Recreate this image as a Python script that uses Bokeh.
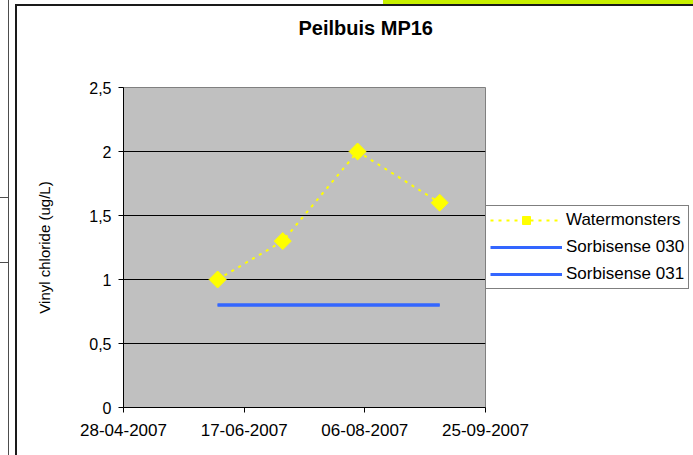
import math
import pandas as pd
from bokeh.plotting import figure
from bokeh.layouts import column, row
from bokeh.models import Range1d, FixedTicker, Legend, LegendItem, Title, Div
from bokeh.embed import file_html
from bokeh.resources import INLINE

# ---- data ----
title_text = "Peilbuis MP16"
y_label = "Vinyl chloride (ug/L)"

water_dates = ["2007-06-06", "2007-07-03", "2007-08-03", "2007-09-06"]
water_values = [1.0, 1.3, 2.0, 1.6]

sorb030_dates = ["2007-06-06", "2007-09-06"]
sorb030_values = [0.8, 0.8]

sorb031_dates = ["2007-06-06", "2007-09-06"]
sorb031_values = [0.8, 0.8]

x_tick_dates = ["2007-04-28", "2007-06-17", "2007-08-06", "2007-09-25"]
x_tick_labels = ["28-04-2007", "17-06-2007", "06-08-2007", "25-09-2007"]

y_ticks = [0, 0.5, 1, 1.5, 2, 2.5]
y_tick_labels = ["0", "0,5", "1", "1,5", "2", "2,5"]

series_labels = ["Watermonsters", "Sorbisense 030", "Sorbisense 031"]


def to_ms(s):
    return float(pd.Timestamp(s).value // 10**6)


x_ticks_ms = [to_ms(d) for d in x_tick_dates]
FONT = "Liberation Sans"

p = figure(
    frame_width=362, frame_height=320,
    title=None,
    x_axis_type="datetime",
    x_range=Range1d(x_ticks_ms[0], x_ticks_ms[-1]),
    y_range=Range1d(y_ticks[0], y_ticks[-1]),
    output_backend="svg", toolbar_location=None,
    min_border_left=105, min_border_right=0,
    min_border_top=71, min_border_bottom=50,
)
p.background_fill_color = "#C0C0C0"
p.border_fill_color = "white"
p.outline_line_color = "#808080"
p.outline_line_width = 1

# title: a thin spacer next to the frame, then the real title above it
p.add_layout(Title(text=" ", text_font_size="1px", standoff=46), "above")
p.add_layout(Title(text=title_text, align="left", offset=175, standoff=0,
                   text_font=FONT, text_font_size="20px", text_font_style="bold",
                   text_color="black"), "above")

# x axis
xa = p.xaxis[0]
xa.ticker = FixedTicker(ticks=x_ticks_ms)
xa.major_label_overrides = {t: l for t, l in zip(x_ticks_ms, x_tick_labels)}
xa.minor_tick_line_color = None
xa.major_tick_in = 0
xa.major_tick_out = 5
xa.axis_line_color = "black"
xa.major_tick_line_color = "black"
xa.major_label_text_font = FONT
xa.major_label_text_font_size = "17px"
xa.major_label_text_color = "black"
xa.major_label_standoff = 11

# y axis
ya = p.yaxis[0]
ya.ticker = FixedTicker(ticks=y_ticks)
ya.major_label_overrides = {t: l for t, l in zip(y_ticks, y_tick_labels)}
ya.minor_tick_line_color = None
ya.major_tick_in = 0
ya.major_tick_out = 5
ya.axis_line_color = "black"
ya.major_tick_line_color = "black"
ya.major_label_text_font = FONT
ya.major_label_text_font_size = "16px"
ya.major_label_text_color = "black"
ya.major_label_standoff = 7
ya.axis_label = y_label
ya.axis_label_text_font = FONT
ya.axis_label_text_font_size = "15px"
ya.axis_label_text_font_style = "normal"
ya.axis_label_text_color = "black"
ya.axis_label_standoff = 33

p.xgrid.visible = False
p.ygrid.ticker = FixedTicker(ticks=y_ticks)
p.ygrid.grid_line_color = "black"
p.ygrid.grid_line_width = 1
p.ygrid.grid_line_alpha = 1

# series
r030 = p.line([to_ms(d) for d in sorb030_dates], sorb030_values,
              line_color="#3366FF", line_width=3)
r031 = p.line([to_ms(d) for d in sorb031_dates], sorb031_values,
              line_color="#3366FF", line_width=3)
wx = [to_ms(d) for d in water_dates]
rw_line = p.line(wx, water_values, line_color="#FFFF00", line_width=2, line_dash="3 5")
rw_pts = p.scatter(wx, water_values, marker="square", angle=math.pi / 4, size=12,
                   fill_color="#FFFF00", line_color="#FFFF00")

legend = Legend(
    items=[
        LegendItem(label=series_labels[0], renderers=[rw_line, rw_pts]),
        LegendItem(label=series_labels[1], renderers=[r030]),
        LegendItem(label=series_labels[2], renderers=[r031]),
    ],
    location="center_left",
    padding=4, spacing=7, margin=0,
    glyph_width=72, glyph_height=20, label_height=20, label_standoff=4,
    label_text_font=FONT, label_text_font_size="17px", label_text_color="black",
    border_line_color="black", border_line_width=1,
    background_fill_color="white", background_fill_alpha=1,
)
p.add_layout(legend, "right")

# edges of the surrounding sheet visible in the screenshot
top_html = (
    '<div style="position:relative;width:693px;height:14px;overflow:hidden;background:white">'
    '<div style="position:absolute;left:8px;top:0;width:1px;height:14px;background:#4d4d4d"></div>'
    '<div style="position:absolute;left:383px;top:0;width:310px;height:4px;background:#C8F000"></div>'
    '<div style="position:absolute;left:15px;top:4px;width:678px;height:2px;background:#1a1a1a"></div>'
    '<div style="position:absolute;left:15px;top:4px;width:2px;height:10px;background:#1a1a1a"></div>'
    '</div>'
)
top_div = Div(text=top_html, width=693, height=14, margin=0)

left_html = (
    '<div style="position:relative;width:18px;height:441px;overflow:hidden;background:white">'
    '<div style="position:absolute;left:8px;top:0;width:1px;height:441px;background:#4d4d4d"></div>'
    '<div style="position:absolute;left:0;top:183px;width:8px;height:1px;background:#4d4d4d"></div>'
    '<div style="position:absolute;left:0;top:248px;width:8px;height:1px;background:#4d4d4d"></div>'
    '<div style="position:absolute;left:15px;top:0;width:2px;height:441px;background:#1a1a1a"></div>'
    '</div>'
)
left_div = Div(text=left_html, width=18, height=441, margin=0)

page = column(top_div, row(left_div, p, spacing=0), spacing=0)

open("out.html", "w").write(file_html(page, INLINE))
